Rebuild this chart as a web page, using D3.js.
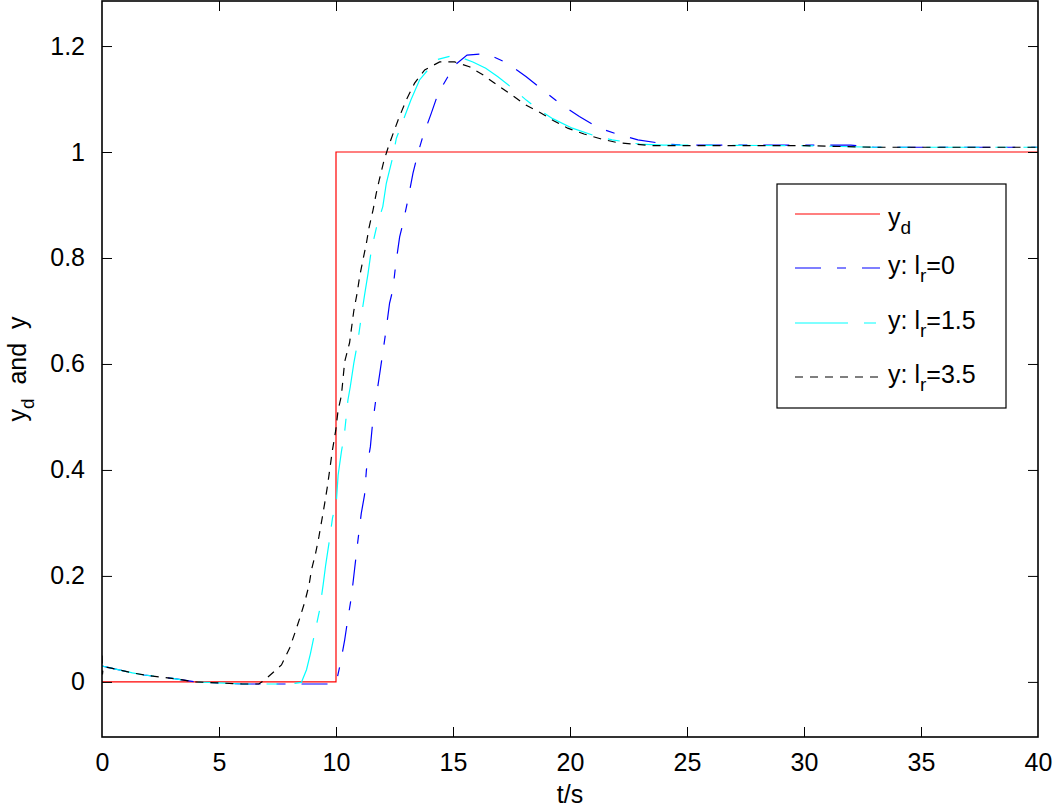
<!DOCTYPE html>
<html>
<head>
<meta charset="utf-8">
<script src="https://d3js.org/d3.v7.min.js"></script>
<style>
  body { margin: 0; background: #fff; }
  text { font-family: "Liberation Sans", Arial, Helvetica, sans-serif; fill: #000; }
</style>
</head>
<body>
<svg id="chart" width="1053" height="808"></svg>
<script>
    // tick values
    const xTicks = [0, 5, 10, 15, 20, 25, 30, 35, 40];
    const yTicks = [0, 0.2, 0.4, 0.6, 0.8, 1, 1.2];

    // reference signal y_d  [t, value]
    const yd = [[0, 0], [10, 0], [10, 1], [40, 1]];

    // y with l_r = 0
    const yLr0 = [[0,0.03],[0.3,0.027],[1.3,0.017],[1.8,0.013],[3.1,0.006],[4,0],[5,-0.002],[6,-0.004],
        [8,-0.004],[9.9,-0.004],[10,-0.003],[10.19,0.035],[10.37,0.079],[10.51,0.12],[10.66,0.161],
        [10.8,0.215],[10.94,0.268],[11.08,0.318],[11.22,0.353],[11.3,0.4],[11.47,0.444],[11.55,0.482],
        [11.69,0.529],[11.87,0.582],[12.12,0.658],[12.29,0.715],[12.43,0.74],[12.55,0.787],[12.72,0.84],
        [12.86,0.865],[13.07,0.909],[13.29,0.96],[13.5,0.998],[13.71,1.029],[14.07,1.073],[14.36,1.11],
        [14.78,1.142],[14.99,1.161],[15.6,1.183],[16.42,1.186],[17.3,1.168],[18.13,1.142],[18.84,1.117],
        [19.55,1.092],[20.4,1.067],[21.25,1.045],[22,1.034],[22.9,1.023],[24.1,1.015],[25,1.013],
        [32,1.013],[33,1.009],[40,1.009]];

    // y with l_r = 1.5
    const yLr15 = [[0,0.03],[0.3,0.027],[1.3,0.017],[1.8,0.013],[3.1,0.006],[4,0],[5,-0.002],[6,-0.004],
        [7,-0.004],[8,-0.004],[8.52,-0.001],[8.74,0.023],[8.91,0.054],[9.09,0.092],[9.3,0.136],
        [9.45,0.183],[9.56,0.221],[9.7,0.262],[9.85,0.309],[10.02,0.343],[10.09,0.39],[10.23,0.434],
        [10.37,0.472],[10.51,0.532],[10.61,0.557],[10.76,0.601],[10.94,0.645],[11.08,0.689],[11.22,0.73],
        [11.37,0.771],[11.51,0.815],[11.72,0.856],[12,0.897],[12.15,0.941],[12.43,0.991],[12.58,1.026],
        [13.2,1.098],[13.57,1.136],[14.28,1.174],[15.07,1.183],[15.85,1.17],[16.4,1.158],[16.92,1.142],
        [17.55,1.12],[18.13,1.098],[18.7,1.079],[19.26,1.063],[20.1,1.045],[20.97,1.032],[21.8,1.023],
        [22.96,1.015],[24,1.013],[30,1.012],[33,1.009],[40,1.009]];

    // y with l_r = 3.5
    const yLr35 = [[0,0.05],[0.02,0.014],[0.05,0.028],[0.3,0.027],[1.3,0.017],[1.8,0.013],[3.1,0.006],
        [4,0],[5,-0.002],[6,-0.004],[6.7,-0.004],[6.96,0.004],[7.67,0.032],[8.02,0.064],[8.24,0.092],
        [8.45,0.12],[8.66,0.15],[8.85,0.183],[8.95,0.211],[9.13,0.243],[9.27,0.274],[9.42,0.312],
        [9.52,0.338],[9.63,0.368],[9.73,0.4],[9.85,0.438],[9.99,0.475],[10.09,0.513],[10.23,0.54],
        [10.37,0.604],[10.58,0.64],[10.76,0.7],[10.9,0.733],[11.01,0.765],[11.15,0.796],[11.3,0.828],
        [11.41,0.857],[11.58,0.89],[11.72,0.922],[11.87,0.951],[12.04,0.982],[12.26,1.013],[12.65,1.06],
        [13,1.098],[13.36,1.13],[13.79,1.155],[14.43,1.17],[15.07,1.17],[15.7,1.161],[16.3,1.145],
        [16.9,1.126],[17.5,1.108],[18.1,1.089],[18.7,1.075],[19.3,1.059],[19.9,1.045],[20.6,1.034],
        [21.3,1.025],[22,1.018],[22.7,1.015],[23.5,1.012],[25,1.012],[30,1.012],[33,1.009],[40,1.009]];

    const svg = d3.select("#chart");
    const pLeft = 102, pRight = 1038, pTop = 1, pBottom = 737;
    const fs = 25;

    const x = d3.scaleLinear().domain([0, 40]).range([pLeft, pRight]);
    const y = d3.scaleLinear().domain([-0.104, 1.285]).range([pBottom, pTop]);

    svg.append("defs").append("clipPath").attr("id", "plotclip")
        .append("rect").attr("x", pLeft).attr("y", pTop).attr("width", pRight - pLeft).attr("height", pBottom - pTop);

    const line = d3.line().x(d => x(d[0])).y(d => y(d[1]));
    const plot = svg.append("g").attr("clip-path", "url(#plotclip)");

    const series = [
        { data: yd,    color: "#ff0000", dash: null },
        { data: yLr0,  color: "#0000ff", dash: "26,16,9,16" },
        { data: yLr15, color: "#00ffff", dash: "53,16,12,16" },
        { data: yLr35, color: "#000000", dash: "8,7" }
    ];
    series.forEach(s => {
        plot.append("path")
            .attr("d", line(s.data))
            .attr("fill", "none")
            .attr("stroke", s.color)
            .attr("stroke-width", 1.2)
            .attr("stroke-dasharray", s.dash);
    });

    // axes frame
    svg.append("rect")
        .attr("x", pLeft).attr("y", pTop)
        .attr("width", pRight - pLeft).attr("height", pBottom - pTop)
        .attr("fill", "none").attr("stroke", "#000").attr("stroke-width", 1.6);

    // ticks on all four sides, pointing inward
    const tl = 10;
    const xb = svg.append("g").attr("transform", `translate(0,${pBottom})`)
        .call(d3.axisBottom(x).tickValues(xTicks).tickSizeInner(-tl).tickSizeOuter(0).tickPadding(16).tickFormat(d3.format("d")));
    const xt = svg.append("g").attr("transform", `translate(0,${pTop})`)
        .call(d3.axisTop(x).tickValues(xTicks).tickSizeInner(-tl).tickSizeOuter(0).tickFormat(""));
    const yl = svg.append("g").attr("transform", `translate(${pLeft},0)`)
        .call(d3.axisLeft(y).tickValues(yTicks).tickSizeInner(-tl).tickSizeOuter(0).tickPadding(17).tickFormat(d => String(+d.toFixed(1))));
    const yr = svg.append("g").attr("transform", `translate(${pRight},0)`)
        .call(d3.axisRight(y).tickValues(yTicks).tickSizeInner(-tl).tickSizeOuter(0).tickFormat(""));

    [xb, xt, yl, yr].forEach(g => {
        g.select(".domain").remove();
        g.selectAll(".tick line").attr("stroke", "#000").attr("stroke-width", 1);
        g.selectAll(".tick text").attr("font-size", fs).attr("font-family", "Liberation Sans, Arial, sans-serif");
    });
    // drop ticks at the frame corners
    xt.selectAll(".tick").filter(d => d === 0 || d === 40).remove();
    xb.selectAll(".tick line").filter(d => d === 0 || d === 40).remove();

    // axis labels
    svg.append("text")
        .attr("x", (pLeft + pRight) / 2).attr("y", 803)
        .attr("text-anchor", "middle").attr("font-size", fs)
        .text("t/s");

    const ylab = svg.append("text")
        .attr("transform", `translate(26,${(pTop + pBottom) / 2}) rotate(-90)`)
        .attr("text-anchor", "middle").attr("font-size", fs)
        .style("white-space", "pre");
    ylab.append("tspan").text("y");
    ylab.append("tspan").attr("font-size", 19).attr("dy", 8).text("d");
    ylab.append("tspan").attr("dy", -8).text("  and  y");

    // legend
    const legend = svg.append("g");
    legend.append("rect")
        .attr("x", 777).attr("y", 184).attr("width", 229).attr("height", 224)
        .attr("fill", "#fff").attr("stroke", "#000").attr("stroke-width", 1.2);

    const legendRows = [
        { label: ["y", "d", ""],       color: "#ff0000", dash: null,          cy: 214, base: 226 },
        { label: ["y: l", "r", "=0"],   color: "#0000ff", dash: "26,16,9,16",  cy: 268, base: 274 },
        { label: ["y: l", "r", "=1.5"], color: "#00ffff", dash: "53,16,12,16", cy: 323, base: 329 },
        { label: ["y: l", "r", "=3.5"], color: "#000000", dash: "8,7",         cy: 377, base: 383 }
    ];
    legendRows.forEach(r => {
        legend.append("line")
            .attr("x1", 795).attr("x2", 880).attr("y1", r.cy).attr("y2", r.cy)
            .attr("stroke", r.color).attr("stroke-width", 1.2)
            .attr("stroke-dasharray", r.dash);
        const t = legend.append("text").attr("x", 888).attr("y", r.base).attr("font-size", fs);
        t.append("tspan").text(r.label[0]);
        t.append("tspan").attr("font-size", 19).attr("dy", 8).text(r.label[1]);
        if (r.label[2]) t.append("tspan").attr("dy", -8).text(r.label[2]);
    });
</script>
</body>
</html>
